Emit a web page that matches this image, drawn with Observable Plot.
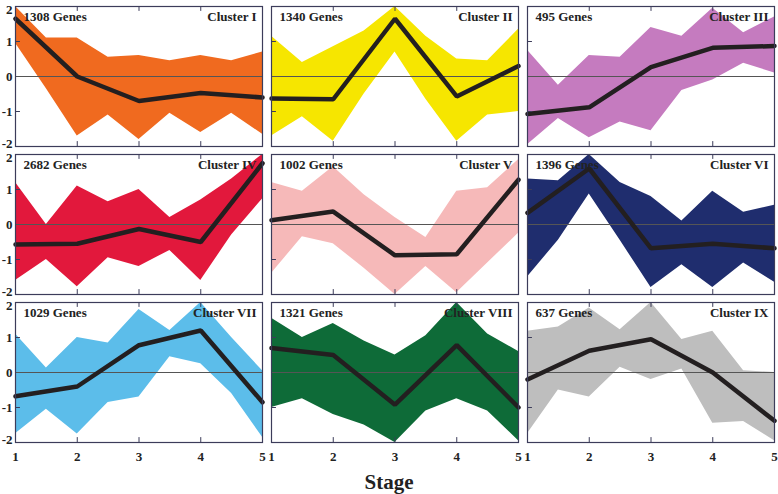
<!DOCTYPE html>
<html>
<head>
<meta charset="utf-8">
<script src="https://cdn.jsdelivr.net/npm/d3@7"></script>
<script src="https://cdn.jsdelivr.net/npm/@observablehq/plot@0.6"></script>
<style>
  html, body { margin: 0; padding: 0; background: #fff; }
  #wrap { width: 778px; }
  #stage { width: 778px; height: 24px; line-height: 24px; text-align: center;
           font-family: "Liberation Serif", "DejaVu Serif", serif; font-weight: bold;
           font-size: 21px; color: #222; padding-left: 0px; }
</style>
</head>
<body>
<div id="wrap"></div>
<script>
// ---- data ----
const stages = [1, 2, 3, 4, 5];
const envX = [1, 1.5, 2, 2.5, 3, 3.5, 4, 4.5, 5];
const yTicks = [-2, -1, 0, 1, 2];
const clusterNames = ["Cluster I", "Cluster II", "Cluster III", "Cluster IV", "Cluster V",
                      "Cluster VI", "Cluster VII", "Cluster VIII", "Cluster IX"];
const geneCounts = [1308, 1340, 495, 2682, 1002, 1396, 1029, 1321, 637];
const colors = ["#F06A1F", "#F6E600", "#C57BBF", "#E2183C", "#F6B9B9",
                "#1F2D6E", "#5CBDEA", "#0E6B38", "#BEBEBE"];
// mean expression per stage
const means = [
  [1.65, 0.0, -0.7, -0.47, -0.6],
  [-0.63, -0.65, 1.65, -0.57, 0.3],
  [-1.07, -0.88, 0.27, 0.82, 0.87],
  [-0.57, -0.55, -0.13, -0.5, 1.75],
  [0.12, 0.37, -0.88, -0.85, 1.28],
  [0.33, 1.6, -0.68, -0.55, -0.68],
  [-0.68, -0.4, 0.78, 1.2, -0.85],
  [0.7, 0.5, -0.92, 0.78, -1.0],
  [-0.2, 0.62, 0.95, 0.0, -1.38]
];
// upper edge of the gene-profile band (at envX)
const uppers = [
  [2.0, 1.1, 1.1, 0.55, 0.6, 0.45, 0.6, 0.45, 0.7],
  [1.15, 0.4, 0.85, 1.3, 2.0, 1.15, 0.5, 0.45, 1.35],
  [0.75, -0.25, 0.6, 0.55, 1.4, 1.15, 1.95, 1.25, 1.7],
  [1.2, 0.0, 1.1, 0.65, 1.0, 0.2, 0.7, 1.3, 2.0],
  [1.2, 0.95, 1.65, 0.85, 0.2, -0.37, 0.95, 1.05, 1.85],
  [1.3, 1.25, 2.0, 1.2, 0.8, 0.1, 0.95, 0.35, 0.55],
  [1.1, 0.13, 1.0, 0.84, 1.8, 1.2, 2.0, 1.0, 0.05],
  [1.55, 1.0, 1.4, 0.9, 0.5, 1.05, 2.0, 1.1, 0.6],
  [1.18, 1.3, 1.84, 1.22, 2.0, 0.94, 1.18, 0.05, 0.0]
];
// lower edge of the gene-profile band (at envX)
const lowers = [
  [0.95, -0.35, -1.7, -1.1, -1.8, -1.05, -1.6, -1.05, -1.65],
  [-1.7, -1.15, -1.85, -0.5, 0.7, -0.65, -1.85, -1.1, -1.0],
  [-1.95, -1.2, -1.75, -1.3, -1.55, -0.4, -0.1, 0.38, 0.1],
  [-1.6, -1.0, -1.78, -0.95, -1.2, -0.74, -1.6, -0.3, 0.73],
  [-1.4, -0.35, -0.55, -1.25, -2.0, -1.2, -1.95, -1.1, -0.25],
  [-1.5, -0.45, 0.87, -0.45, -1.8, -1.15, -1.8, -1.1, -1.65],
  [-1.75, -1.05, -1.76, -0.86, -0.7, 0.45, 0.25, -0.6, -1.85],
  [-1.0, -0.75, -1.2, -1.5, -2.0, -1.1, -0.75, -1.1, -1.95],
  [-1.75, -0.5, -0.7, 0.15, -0.2, 0.1, -1.45, -1.4, -1.95]
];
const innerTicksX = [2, 3, 4];
const innerTicksY = [-1, 1];

// ---- tables ----
const panels = clusterNames.map((name, i) => ({
  i, col: i % 3, row: Math.floor(i / 3), name,
  genes: geneCounts[i] + " Genes", color: colors[i]
}));
const band = panels.flatMap(p => envX.map((x, j) => ({
  col: p.col, row: p.row, x, lo: lowers[p.i][j], hi: uppers[p.i][j], color: p.color
})));
const meanRows = panels.flatMap(p => stages.map((x, j) => ({
  col: p.col, row: p.row, x, y: means[p.i][j]
})));
const frameTicks = panels.flatMap(p => innerTicksX.map(x => ({col: p.col, row: p.row, x})));
const frameTicksY = panels.flatMap(p => innerTicksY.map(y => ({col: p.col, row: p.row, y})));
const yLabels = panels.filter(p => p.col === 0)
  .flatMap(p => yTicks.map(y => ({col: p.col, row: p.row, y})));

const font = "Liberation Serif";
const fc = {fx: "col", fy: "row"};
const yLab = (filter, dy) => Plot.text(yLabels, {
  ...fc, filter, x: () => 1, y: "y", text: d => String(d.y), dx: -3, dy,
  textAnchor: "end", fontFamily: font, fontWeight: "bold", fontSize: 13, fill: "#222"
});

const chart = Plot.plot({
  width: 778,
  height: 470,
  marginLeft: 15,
  marginRight: 3,
  marginTop: 5,
  marginBottom: 27,
  style: {fontFamily: font, fontWeight: "bold", fontSize: "13px", color: "#222", background: "#fff"},
  fx: {domain: [0, 1, 2], axis: null, paddingInner: 0.034, paddingOuter: 0},
  fy: {domain: [0, 1, 2], axis: null, paddingInner: 0.054, paddingOuter: 0},
  x: {domain: [1, 5], ticks: stages, tickSize: 0, tickPadding: 9, label: null, tickFormat: d3.format("d")},
  y: {domain: [-2, 2], axis: null},
  color: {type: "identity"},
  marks: [
    Plot.areaY(band, {...fc, x: "x", y1: "lo", y2: "hi", fill: "color", z: null}),
    Plot.ruleY(panels, {...fc, y: () => 0, stroke: "#555", strokeWidth: 1}),
    Plot.line(meanRows, {...fc, x: "x", y: "y", stroke: "#231F20", strokeWidth: 4.5, strokeLinejoin: "miter"}),
    Plot.ruleX(frameTicks, {...fc, x: "x", y1: () => -2, y2: () => -1.86, stroke: "#3c3c5a"}),
    Plot.ruleX(frameTicks, {...fc, x: "x", y1: () => 2, y2: () => 1.86, stroke: "#3c3c5a"}),
    Plot.ruleY(frameTicksY, {...fc, y: "y", x1: () => 1, x2: () => 1.08, stroke: "#3c3c5a"}),
    Plot.text(panels, {...fc, text: "genes", frameAnchor: "top-left", dx: 8, dy: 5,
      fontFamily: font, fontWeight: "bold", fontSize: 13, fill: "#222"}),
    Plot.text(panels, {...fc, text: "name", frameAnchor: "top-right", dx: -6, dy: 5,
      fontFamily: font, fontWeight: "bold", fontSize: 13, fill: "#222"}),
    Plot.frame({stroke: "#3c3c5a", strokeWidth: 1.2}),
    yLab(d => Math.abs(d.y) < 2, 0),
    yLab(d => d.y === 2, 3),
    yLab(d => d.y === -2, -3)
  ]
});
document.getElementById("wrap").appendChild(chart);
const st = document.createElement("div");
st.id = "stage";
st.textContent = "Stage";
document.getElementById("wrap").appendChild(st);
</script>
</body>
</html>
